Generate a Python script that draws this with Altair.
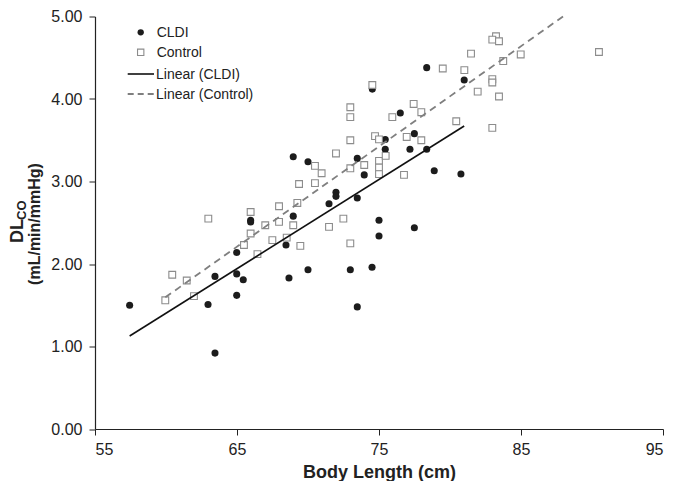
import altair as alt
import pandas as pd

# ---- data ----
cldi_x = [57.44, 62.96, 63.45, 63.45, 64.98, 64.98, 65.44, 64.98, 65.96, 65.96,
          68.45, 68.66, 68.96, 68.96, 70.0, 70.0, 71.48, 71.97, 71.97, 72.98,
          73.47, 73.47, 73.47, 73.96, 74.51, 74.53, 75.0, 75.0, 75.44, 75.44,
          76.5, 77.18, 77.49, 77.49, 78.36, 78.36, 78.89, 80.77, 81.0]
cldi_y = [1.50, 1.51, 1.85, 0.92, 2.14, 1.88, 1.81, 1.62, 2.53, 2.51,
          2.23, 1.83, 2.58, 3.30, 3.24, 1.93, 2.73, 2.87, 2.82, 1.93,
          3.28, 2.80, 1.48, 3.08, 1.96, 4.12, 2.53, 2.34, 3.51, 3.39,
          3.83, 3.39, 3.58, 2.44, 4.38, 3.39, 3.13, 3.09, 4.23]

ctrl_x = [59.95, 60.44, 61.46, 61.97, 62.98, 65.49, 65.96, 65.96, 66.44, 66.99,
          67.49, 67.96, 67.96, 68.5, 68.96, 69.25, 69.37, 69.46, 70.49, 70.49,
          70.96, 71.48, 71.97, 72.49, 72.98, 72.98, 72.98, 72.98, 72.98, 73.96,
          74.53, 74.72, 75.0, 75.0, 75.0, 75.0, 75.47, 75.94, 76.76, 76.95,
          77.44, 77.98, 77.98, 79.49, 80.44, 81.01, 81.48, 81.95, 82.98, 82.98,
          82.98, 83.24, 82.98, 83.45, 83.45, 83.75, 84.98, 90.49]
ctrl_y = [1.56, 1.87, 1.80, 1.61, 2.55, 2.23, 2.63, 2.37, 2.12, 2.47,
          2.29, 2.70, 2.51, 2.32, 2.47, 2.74, 2.97, 2.22, 3.19, 2.98,
          3.10, 2.45, 3.34, 2.55, 3.90, 3.78, 3.50, 3.16, 2.25, 3.20,
          4.17, 3.55, 3.51, 3.25, 3.17, 3.09, 3.31, 3.78, 3.08, 3.54,
          3.94, 3.84, 3.50, 4.37, 3.73, 4.35, 4.55, 4.09, 4.24, 4.20,
          3.65, 4.76, 4.72, 4.70, 4.03, 4.46, 4.54, 4.57]

cldi_fit_x = [57.44, 81.0]
cldi_fit_y = [1.127, 3.673]
ctrl_fit_x = [59.95, 87.96]
ctrl_fit_y = [1.596, 5.0]

legend_labels = ["CLDI", "Control", "Linear (CLDI)", "Linear (Control)"]
x_ticks = [55, 65, 75, 85, 95]
y_ticks = [0, 1, 2, 3, 4, 5]

FONT = "Liberation Sans"
DARK = "#222222"

cldi = pd.DataFrame({"x": cldi_x, "y": cldi_y})
ctrl = pd.DataFrame({"x": ctrl_x, "y": ctrl_y})
cfit = pd.DataFrame({"x": cldi_fit_x, "y": cldi_fit_y})
kfit = pd.DataFrame({"x": ctrl_fit_x, "y": ctrl_fit_y})

xs = alt.Scale(domain=[55, 95], nice=False, zero=False)
ys = alt.Scale(domain=[0, 5], nice=False)

xenc = alt.X("x:Q", scale=xs,
             axis=alt.Axis(values=x_ticks, title="Body Length (cm)", format="d",
                           titleFontSize=18, titleFontWeight="bold", titlePadding=6,
                           labelPadding=6))
yenc = alt.Y("y:Q", scale=ys,
             axis=alt.Axis(values=y_ticks, format=".2f", title=None, labelPadding=7))

pts_cldi = alt.Chart(cldi).mark_point(shape="circle", filled=True, size=50,
                                      color="#1c1c1c", opacity=1).encode(x=xenc, y=yenc)
pts_ctrl = alt.Chart(ctrl).mark_point(shape="square", filled=False, size=46, fill="white",
                                      fillOpacity=1, stroke="#8c8c8c", strokeWidth=1.1,
                                      opacity=1).encode(x="x:Q", y="y:Q")
line_cldi = alt.Chart(cfit).mark_line(color="#111111", strokeWidth=1.6).encode(x="x:Q", y="y:Q")
line_ctrl = alt.Chart(kfit).mark_line(color="#7f7f7f", strokeWidth=1.8,
                                      strokeDash=[7, 5]).encode(x="x:Q", y="y:Q")

# ---- legend (top-left, inside plot) ----
leg_base = alt.Chart(pd.DataFrame({"d": [0]}))
lg_circle = leg_base.mark_point(shape="circle", filled=True, size=40, color="#1c1c1c",
                                opacity=1).encode(x=alt.value(45.7), y=alt.value(15.8))
lg_square = leg_base.mark_point(shape="square", filled=False, size=40, fill="white",
                                stroke="#8c8c8c", strokeWidth=1.1, opacity=1
                                ).encode(x=alt.value(45.7), y=alt.value(35.8))
lg_solid = leg_base.mark_rule(color="#111111", strokeWidth=1.6).encode(
    x=alt.value(32.7), x2=alt.value(59), y=alt.value(57.5))
lg_dash = leg_base.mark_rule(color="#7f7f7f", strokeWidth=1.8, strokeDash=[6, 4]).encode(
    x=alt.value(32.7), x2=alt.value(59), y=alt.value(77.5))

def leg_text(label, xv, yv):
    return leg_base.mark_text(text=label, align="left", baseline="middle", font=FONT,
                              fontSize=14, color=DARK).encode(x=alt.value(xv), y=alt.value(yv))

lg_texts = [leg_text(legend_labels[0], 61.7, 16),
            leg_text(legend_labels[1], 61.7, 36),
            leg_text(legend_labels[2], 61.0, 58),
            leg_text(legend_labels[3], 61.0, 78)]

# ---- y-axis title with subscript ----
yt_dl = leg_base.mark_text(text="DL", align="left", baseline="alphabetic", angle=270,
                           font=FONT, fontSize=18, fontWeight="bold", color=DARK
                           ).encode(x=alt.value(-72), y=alt.value(226.5))
yt_co = leg_base.mark_text(text="CO", align="left", baseline="alphabetic", angle=270,
                           font=FONT, fontSize=13, fontWeight="bold", color=DARK
                           ).encode(x=alt.value(-69.5), y=alt.value(203.5))
yt_units = leg_base.mark_text(text="(mL/min/mmHg)", align="center", baseline="alphabetic",
                              angle=270, font=FONT, fontSize=16, fontWeight="bold", color=DARK
                              ).encode(x=alt.value(-55), y=alt.value(207.5))

chart = alt.layer(
    pts_cldi, pts_ctrl, line_cldi, line_ctrl,
    lg_circle, lg_square, lg_solid, lg_dash, *lg_texts,
    yt_dl, yt_co, yt_units,
).properties(
    width=568, height=412.5,
    autosize=alt.AutoSizeParams(type="none"),
    padding={"left": 87, "top": 8.5, "right": 5, "bottom": 52},
).configure_view(stroke=None).configure_axis(
    grid=False, domainColor=DARK, tickColor=DARK, labelColor=DARK, titleColor=DARK,
    labelFont=FONT, titleFont=FONT, labelFontSize=16, tickSize=6, domainWidth=1.2,
    tickWidth=1,
)

chart.save("out.html", embed_options={"renderer": "svg", "actions": False})
